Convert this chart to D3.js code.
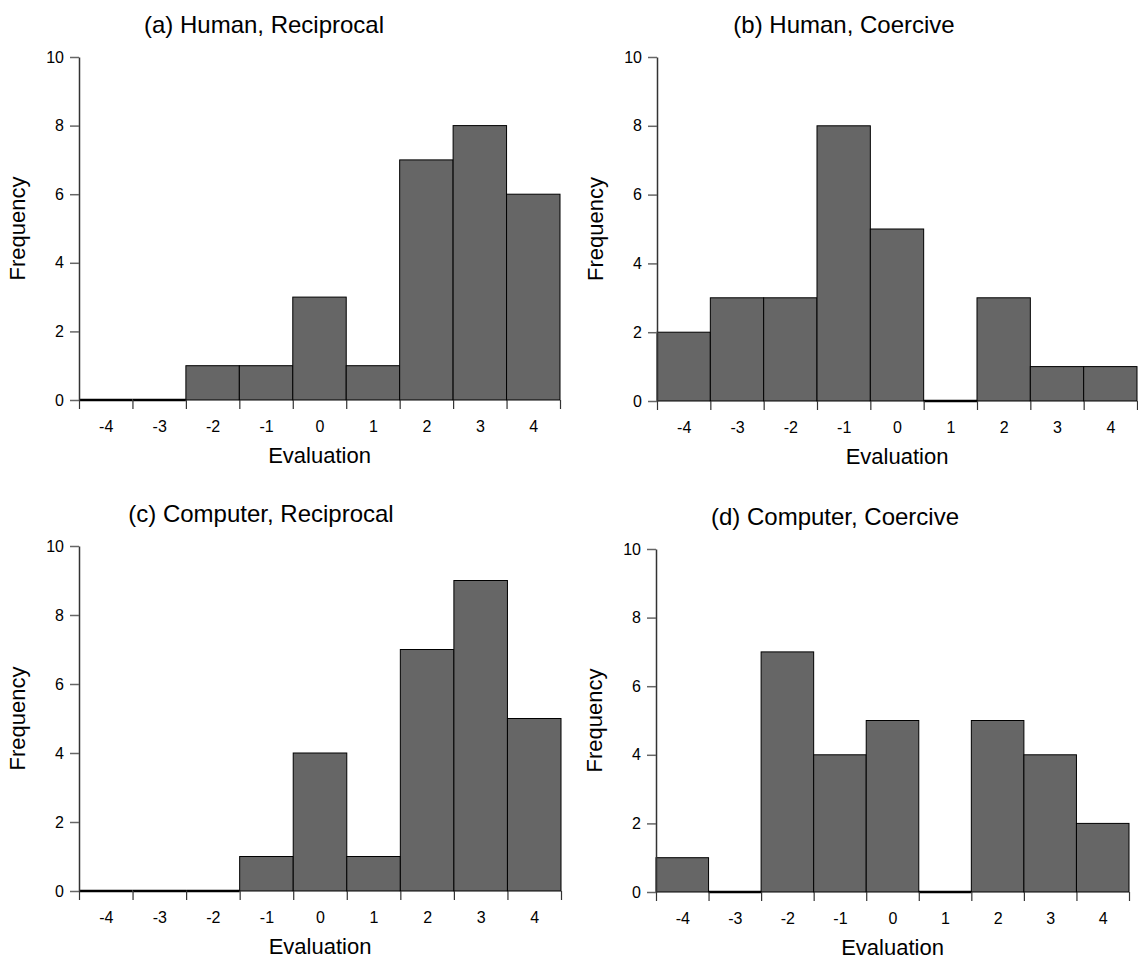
<!DOCTYPE html>
<html>
<head>
<meta charset="utf-8">
<script src="https://cdn.jsdelivr.net/npm/d3@7"></script>
<style>
body { margin: 0; background: #fff; }
svg { display: block; font-family: "Liberation Sans", Arial, sans-serif; }
.tick text { fill: #000; }
</style>
</head>
<body>
<svg id="chart" width="1138" height="961"></svg>
<script>
// evaluation scores -4 .. 4
var evaluations = [-4, -3, -2, -1, 0, 1, 2, 3, 4];
var freqTicks = [0, 2, 4, 6, 8, 10];

var titles = ["(a) Human, Reciprocal", "(b) Human, Coercive", "(c) Computer, Reciprocal", "(d) Computer, Coercive"];

var humanReciprocal    = [0, 0, 1, 1, 3, 1, 7, 8, 6];
var humanCoercive      = [2, 3, 3, 8, 5, 0, 3, 1, 1];
var computerReciprocal = [0, 0, 0, 1, 4, 1, 7, 9, 5];
var computerCoercive   = [1, 0, 7, 4, 5, 0, 5, 4, 2];

// panel frames: left/right of the bins, y of 0 and 10, title centre
var panels = [
    {data: humanReciprocal,    left: 79,  right: 560,  bottom: 400, top: 57,  titleX: 264},
    {data: humanCoercive,      left: 657, right: 1137, bottom: 401, top: 57,  titleX: 844},
    {data: computerReciprocal, left: 79,  right: 561,  bottom: 891, top: 546, titleX: 261},
    {data: computerCoercive,   left: 656, right: 1129, bottom: 892, top: 549, titleX: 835}
];

var svg = d3.select("#chart");

function draw_panel(p, i)
{
    var g = svg.append("g");
    var x = d3.scaleLinear().domain([-4.5, 4.5]).range([p.left, p.right]);
    var y = d3.scaleLinear().domain([0, 10]).range([p.bottom, p.top]);
    var bw = x(-3.5) - x(-4.5);

    var rows = evaluations.map(function(e, k) { return {e: e, n: p.data[k]}; });

    // bars
    g.selectAll("rect.bar").data(rows.filter(function(d) { return d.n > 0; }))
        .enter().append("rect")
        .attr("class", "bar")
        .attr("x", function(d) { return x(d.e - 0.5); })
        .attr("y", function(d) { return y(d.n); })
        .attr("width", bw)
        .attr("height", function(d) { return y(0) - y(d.n); })
        .attr("fill", "#666666")
        .attr("stroke", "#000")
        .attr("stroke-width", 1);

    // empty bins are just a thick line on the baseline
    g.selectAll("line.empty").data(rows.filter(function(d) { return d.n == 0; }))
        .enter().append("line")
        .attr("class", "empty")
        .attr("x1", function(d) { return x(d.e - 0.5); })
        .attr("x2", function(d) { return x(d.e + 0.5); })
        .attr("y1", y(0)).attr("y2", y(0))
        .attr("stroke", "#000")
        .attr("stroke-width", 2.5);

    // y axis
    var ya = g.append("g")
        .attr("transform", "translate(" + p.left + ",0)")
        .call(d3.axisLeft(y).tickValues(freqTicks).tickSize(9).tickSizeOuter(0).tickPadding(6));
    ya.select(".domain").attr("stroke", "#333").attr("stroke-width", 1.5);
    ya.selectAll(".tick line").attr("stroke", "#666").attr("stroke-width", 1.5);
    ya.selectAll(".tick text").style("font-size", "16px");

    // x ticks sit on the bin edges, labels in the middle of the bins
    var edges = evaluations.map(function(e) { return e - 0.5; }).concat([4.5]);
    var xt = g.append("g")
        .attr("transform", "translate(0," + p.bottom + ")")
        .call(d3.axisBottom(x).tickValues(edges).tickSize(9).tickFormat(""));
    xt.select(".domain").remove();
    xt.selectAll(".tick line").attr("stroke", "#333").attr("stroke-width", 1.2);

    var xl = g.append("g")
        .attr("transform", "translate(0," + p.bottom + ")")
        .call(d3.axisBottom(x).tickValues(evaluations).tickSize(0).tickPadding(21)
            .tickFormat(function(d) { return String(d); }));   // plain hyphen, not unicode minus
    xl.select(".domain").remove();
    xl.selectAll(".tick text").style("font-size", "16px");

    // labels
    g.append("text")
        .attr("x", (p.left + p.right) / 2)
        .attr("y", p.bottom + 63)
        .attr("text-anchor", "middle")
        .style("font-size", "22px")
        .text("Evaluation");

    g.append("text")
        .attr("transform", "translate(" + (p.left - 54) + "," + ((p.top + p.bottom) / 2) + ") rotate(-90)")
        .attr("text-anchor", "middle")
        .style("font-size", "22px")
        .text("Frequency");

    g.append("text")
        .attr("x", p.titleX)
        .attr("y", p.top - 24)
        .attr("text-anchor", "middle")
        .style("font-size", "24px")
        .text(titles[i]);
}

panels.forEach(draw_panel);
</script>
</body>
</html>
